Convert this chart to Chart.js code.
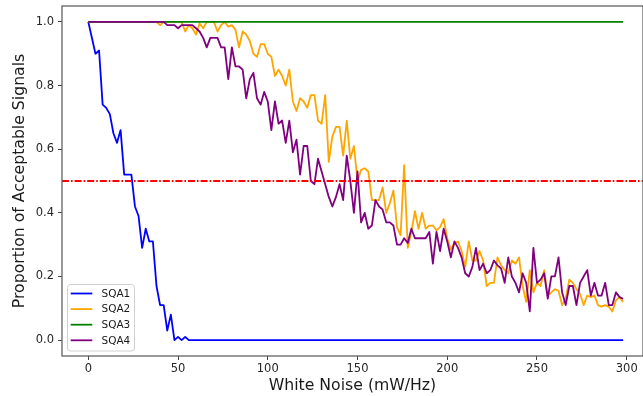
<!DOCTYPE html>
<html>
<head>
<meta charset="utf-8">
<script src="https://cdn.jsdelivr.net/npm/chart.js@4/dist/chart.umd.min.js"></script>
<style>
html,body{margin:0;padding:0;background:#fff;}
#wrap{width:643px;height:396px;position:relative;overflow:hidden;}
canvas{display:block;}
</style>
</head>
<body>
<div id="wrap"><canvas id="c" width="643" height="396"></canvas></div>
<script>
// ---- data ----
const noiseLevels = Array.from({length: 150}, (_, i) => i * 2); // white noise grid, 0..298 mW/Hz

const seriesNames = ['SQA1', 'SQA2', 'SQA3', 'SQA4'];

const sqa1 = [
  1.0, 0.95, 0.90, 0.91, 0.74, 0.73, 0.71, 0.65, 0.62, 0.66,
  0.52, 0.52, 0.52, 0.42, 0.39, 0.29, 0.35, 0.31, 0.31, 0.17,
  0.11, 0.11, 0.03, 0.08, 0.0, 0.01, 0.0, 0.01, 0.0, 0.0,
  0,0,0,0,0,0,0,0,0,0, 0,0,0,0,0,0,0,0,0,0,
  0,0,0,0,0,0,0,0,0,0, 0,0,0,0,0,0,0,0,0,0,
  0,0,0,0,0,0,0,0,0,0, 0,0,0,0,0,0,0,0,0,0,
  0,0,0,0,0,0,0,0,0,0, 0,0,0,0,0,0,0,0,0,0,
  0,0,0,0,0,0,0,0,0,0, 0,0,0,0,0,0,0,0,0,0,
  0,0,0,0,0,0,0,0,0,0, 0,0,0,0,0,0,0,0,0,0
];

const sqa2 = [
  1,1,1,1,1,1,1,1,1,1, 1,1,1,1,1,1,1,1,1,1,
  0.99, 1.0, 1.0, 1.0, 1.0,
  1.0, 1.0, 0.97, 0.99, 0.98, 0.96, 0.995, 0.98, 1.0, 1.0,
  1.0, 0.97, 0.99, 1.0, 0.985, 0.99, 0.975, 0.92, 0.97, 0.96,
  0.94, 0.90, 0.89, 0.93, 0.93,
  0.90, 0.89, 0.83, 0.85, 0.83, 0.80, 0.85, 0.75, 0.72, 0.76,
  0.75, 0.73, 0.77, 0.77, 0.69, 0.68, 0.77, 0.56, 0.64, 0.67,
  0.67, 0.58, 0.69, 0.57, 0.61,
  0.50, 0.535, 0.54, 0.53, 0.44, 0.44, 0.44, 0.48, 0.40, 0.43,
  0.47, 0.355, 0.33, 0.55, 0.29, 0.34, 0.405, 0.35, 0.40, 0.35,
  0.36, 0.36, 0.345, 0.355, 0.38,
  0.32, 0.285, 0.305, 0.31, 0.28, 0.23, 0.31, 0.25, 0.25, 0.28,
  0.25, 0.17, 0.18, 0.18, 0.26, 0.235, 0.22, 0.21, 0.25, 0.24,
  0.26, 0.17, 0.12, 0.22, 0.15,
  0.18, 0.17, 0.22, 0.14, 0.15, 0.16, 0.155, 0.11, 0.13, 0.19,
  0.18, 0.16, 0.145, 0.11, 0.14, 0.135, 0.14, 0.11, 0.105, 0.11,
  0.105, 0.09, 0.125, 0.135, 0.12
];

const sqa3 = [
  1,1,1,1,1,1,1,1,1,1, 1,1,1,1,1,1,1,1,1,1,
  1,1,1,1,1,1,1,1,1,1, 1,1,1,1,1,1,1,1,1,1,
  1,1,1,1,1,1,1,1,1,1, 1,1,1,1,1,1,1,1,1,1,
  1,1,1,1,1,1,1,1,1,1, 1,1,1,1,1,1,1,1,1,1,
  1,1,1,1,1,1,1,1,1,1, 1,1,1,1,1,1,1,1,1,1,
  1,1,1,1,1,1,1,1,1,1, 1,1,1,1,1,1,1,1,1,1,
  1,1,1,1,1,1,1,1,1,1, 1,1,1,1,1,1,1,1,1,1,
  1,1,1,1,1,1,1,1,1,1
];

const sqa4 = [
  1,1,1,1,1,1,1,1,1,1, 1,1,1,1,1,1,1,1,1,1, 1,1,
  0.99, 0.99, 0.99, 0.98, 0.99, 0.99, 0.99, 0.99, 0.98, 0.97,
  0.95, 0.92, 0.95, 0.95, 0.95, 0.92, 0.92, 0.82, 0.92, 0.86,
  0.86, 0.85, 0.76, 0.82, 0.84, 0.76, 0.74, 0.78,
  0.75, 0.66, 0.75, 0.68, 0.69, 0.62, 0.69, 0.59, 0.63, 0.52,
  0.61, 0.61, 0.50, 0.49, 0.57, 0.53, 0.49, 0.45, 0.42, 0.45,
  0.49, 0.44, 0.58, 0.50, 0.40,
  0.53, 0.37, 0.40, 0.35, 0.36, 0.44, 0.42, 0.41, 0.37, 0.37,
  0.36, 0.30, 0.30, 0.32, 0.305, 0.35, 0.32, 0.32, 0.32, 0.32,
  0.34, 0.24, 0.34, 0.28, 0.35,
  0.31, 0.26, 0.31, 0.29, 0.26, 0.21, 0.20, 0.23, 0.29, 0.22,
  0.24, 0.21, 0.22, 0.25, 0.235, 0.225, 0.18, 0.26, 0.20, 0.18,
  0.15, 0.21, 0.18, 0.09, 0.29,
  0.18, 0.19, 0.21, 0.13, 0.20, 0.20, 0.26, 0.15, 0.11, 0.17,
  0.17, 0.11, 0.18, 0.20, 0.22, 0.14, 0.18, 0.14, 0.14, 0.18,
  0.11, 0.11, 0.15, 0.135, 0.13
];

const threshold = 0.5;
const xTickValues = [0, 50, 100, 150, 200, 250, 300];
const yTickValues = [0.0, 0.2, 0.4, 0.6, 0.8, 1.0];

// ---- chart ----
const FONT = "'DejaVu Sans', 'Liberation Sans', sans-serif";
const X_MIN = -14.65, X_MAX = 309.07;
const colors = ['#0000ff', '#ffa500', '#008000', '#800080'];
const seriesValues = [sqa1, sqa2, sqa3, sqa4];

const toPoints = arr => noiseLevels.map((x, i) => ({x: x, y: arr[i]}));

const datasets = seriesNames.map((name, k) => ({
  label: name,
  data: toPoints(seriesValues[k]),
  borderColor: colors[k],
  backgroundColor: colors[k],
  borderWidth: 1.8,
  pointRadius: 0,
  fill: false,
  tension: 0,
  borderJoinStyle: 'round',
  order: 10 - k,
  inLegend: true
}));
datasets.push({
  label: 'threshold',
  data: [{x: X_MIN, y: threshold}, {x: X_MAX, y: threshold}],
  borderColor: '#ff0000',
  borderWidth: 1.8,
  borderDash: [7, 2, 1.6, 2],
  pointRadius: 0,
  fill: false,
  order: 1,
  inLegend: false
});

const framePlugin = {
  id: 'frame',
  afterDatasetsDraw(chart) {
    const {ctx, chartArea: a} = chart;
    ctx.save();
    ctx.strokeStyle = '#555555';
    ctx.lineWidth = 1.2;
    ctx.strokeRect(Math.round(a.left), Math.round(a.top),
                   Math.round(a.right - a.left), Math.round(a.bottom - a.top));
    ctx.restore();
  }
};

const legendPlugin = {
  id: 'mplLegend',
  afterDraw(chart) {
    const ctx = chart.ctx;
    const items = chart.data.datasets.filter(d => d.inLegend);
    const x0 = 67.5, y0 = 284.5, w = 67, h = 66.5, r = 3;
    ctx.save();
    ctx.beginPath();
    ctx.moveTo(x0 + r, y0);
    ctx.lineTo(x0 + w - r, y0);
    ctx.quadraticCurveTo(x0 + w, y0, x0 + w, y0 + r);
    ctx.lineTo(x0 + w, y0 + h - r);
    ctx.quadraticCurveTo(x0 + w, y0 + h, x0 + w - r, y0 + h);
    ctx.lineTo(x0 + r, y0 + h);
    ctx.quadraticCurveTo(x0, y0 + h, x0, y0 + h - r);
    ctx.lineTo(x0, y0 + r);
    ctx.quadraticCurveTo(x0, y0, x0 + r, y0);
    ctx.closePath();
    ctx.fillStyle = 'rgba(255,255,255,0.8)';
    ctx.fill();
    ctx.strokeStyle = '#d0d0d0';
    ctx.lineWidth = 1;
    ctx.stroke();
    ctx.font = "10.5px " + FONT;
    ctx.textBaseline = 'middle';
    ctx.textAlign = 'left';
    items.forEach((d, i) => {
      const y = 293.5 + i * 15.6;
      ctx.strokeStyle = d.borderColor;
      ctx.lineWidth = 1.8;
      ctx.beginPath();
      ctx.moveTo(70.7, y);
      ctx.lineTo(92.3, y);
      ctx.stroke();
      ctx.fillStyle = '#1a1a1a';
      ctx.fillText(d.label, 101.5, y + 0.5);
    });
    ctx.restore();
  }
};

new Chart(document.getElementById('c').getContext('2d'), {
  type: 'line',
  data: {datasets: datasets},
  options: {
    responsive: false,
    animation: false,
    devicePixelRatio: 1,
    layout: {padding: {top: 6, right: 0, left: 0, bottom: 0}},
    plugins: {legend: {display: false}, tooltip: {enabled: false}},
    scales: {
      x: {
        type: 'linear',
        min: X_MIN,
        max: X_MAX,
        afterBuildTicks: s => { s.ticks = xTickValues.map(v => ({value: v})); },
        afterFit: s => { s.height = 40; s.paddingLeft = 0; s.paddingRight = 0; },
        grid: {drawOnChartArea: false, drawTicks: true, tickLength: 4, color: '#444444', lineWidth: 1},
        border: {display: false},
        ticks: {
          font: {family: FONT, size: 11.5},
          color: '#262626',
          padding: 2,
          maxRotation: 0,
          autoSkip: false,
          callback: v => String(v)
        },
        title: {
          display: true,
          text: 'White Noise (mW/Hz)',
          font: {family: FONT, size: 15.7},
          color: '#1a1a1a',
          padding: {top: 0, bottom: 1}
        }
      },
      y: {
        type: 'linear',
        min: -0.05,
        max: 1.05,
        afterBuildTicks: s => { s.ticks = yTickValues.map(v => ({value: v})); },
        afterFit: s => { s.width = 62; s.paddingTop = 0; s.paddingBottom = 0; },
        grid: {drawOnChartArea: false, drawTicks: true, tickLength: 4, color: '#444444', lineWidth: 1},
        border: {display: false},
        ticks: {
          font: {family: FONT, size: 11.5},
          color: '#262626',
          padding: 4,
          autoSkip: false,
          callback: v => Number(v).toFixed(1)
        },
        title: {
          display: true,
          text: 'Proportion of Acceptable Signals',
          font: {family: FONT, size: 15.7},
          color: '#1a1a1a',
          padding: {top: 11, bottom: 0}
        }
      }
    }
  },
  plugins: [framePlugin, legendPlugin]
});
</script>
</body>
</html>
